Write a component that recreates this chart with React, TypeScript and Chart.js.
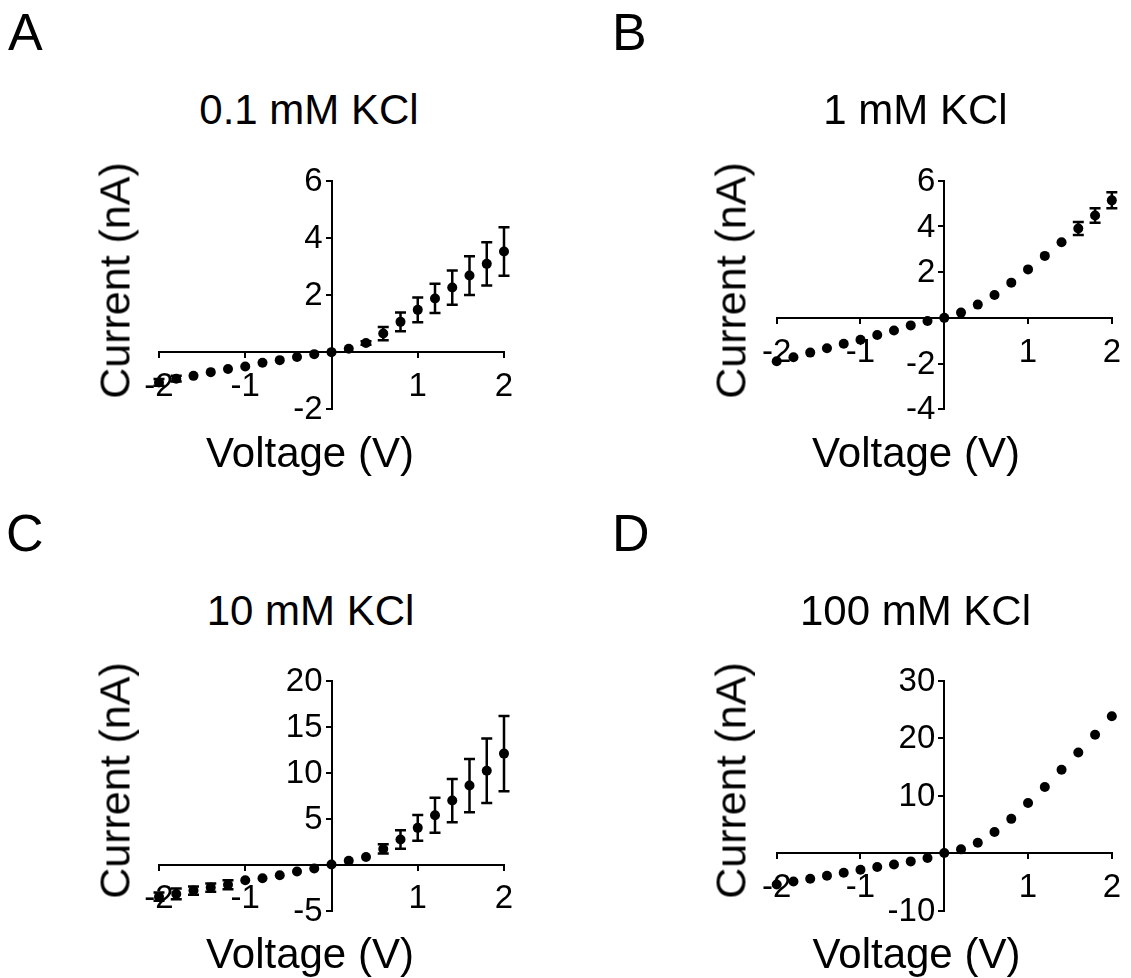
import React, { useEffect, useRef } from 'react';
import { Chart, registerables } from 'chart.js';

Chart.register(...registerables);

// ---------- data ----------
const voltage = [-2, -1.8, -1.6, -1.4, -1.2, -1, -0.8, -0.6, -0.4, -0.2, 0, 0.2, 0.4, 0.6, 0.8, 1, 1.2, 1.4, 1.6, 1.8, 2];

const currentA = [-1.06, -0.93, -0.83, -0.7, -0.59, -0.5, -0.37, -0.28, -0.17, -0.07, 0, 0.12, 0.32, 0.65, 1.06, 1.48, 1.88, 2.26, 2.68, 3.09, 3.52];
const errorA = [0.12, 0.1, 0, 0, 0, 0, 0, 0, 0, 0, 0, 0, 0.06, 0.23, 0.33, 0.43, 0.51, 0.6, 0.68, 0.76, 0.85];

const currentB = [-1.9, -1.72, -1.52, -1.33, -1.13, -0.96, -0.75, -0.55, -0.33, -0.14, 0, 0.23, 0.58, 1.0, 1.54, 2.12, 2.71, 3.31, 3.91, 4.48, 5.14];
const errorB = [0, 0, 0, 0, 0, 0, 0, 0, 0, 0, 0, 0, 0, 0, 0, 0, 0, 0, 0.28, 0.32, 0.35];

const currentC = [-3.5, -3.2, -2.83, -2.5, -2.2, -1.7, -1.49, -1.16, -0.76, -0.43, 0, 0.4, 0.83, 1.7, 2.72, 3.99, 5.36, 6.96, 8.59, 10.2, 12.07];
const errorC = [0.45, 0.58, 0.45, 0.45, 0.5, 0, 0, 0, 0, 0, 0, 0, 0, 0.5, 1.0, 1.4, 1.9, 2.35, 2.9, 3.5, 4.1];

const currentD = [-5.47, -4.94, -4.48, -3.95, -3.43, -2.9, -2.44, -1.98, -1.45, -0.87, 0, 0.64, 1.8, 3.66, 5.95, 8.72, 11.5, 14.5, 17.5, 20.6, 23.8];
const errorD = [0, 0, 0, 0, 0, 0, 0, 0, 0, 0, 0, 0, 0, 0, 0, 0, 0, 0, 0, 0, 0];

const xTicks = [-2, -1, 0, 1, 2];
const yTicksA = [-2, 0, 2, 4, 6];
const yTicksB = [-4, -2, 0, 2, 4, 6];
const yTicksC = [-5, 0, 5, 10, 15, 20];
const yTicksD = [-10, 0, 10, 20, 30];

const panelLetters = ['A', 'B', 'C', 'D'];
const panelTitles = ['0.1 mM KCl', '1 mM KCl', '10 mM KCl', '100 mM KCl'];
const xAxisTitle = 'Voltage (V)';
const yAxisTitle = 'Current (nA)';

const FONT = '"Liberation Sans", Arial, Helvetica, sans-serif';
const TICK_SIZE = 33;

// ---------- plugin: error bars ----------
const errorBarPlugin = {
  id: 'errorBars',
  afterDatasetsDraw(chart: any) {
    const ctx = chart.ctx;
    const xs = chart.scales.x;
    const ys = chart.scales.y;
    chart.data.datasets.forEach((ds: any) => {
      const errs = ds.errors;
      if (!errs) return;
      ctx.save();
      ctx.strokeStyle = '#000';
      ctx.lineWidth = 2.5;
      ds.data.forEach((p: any, i: number) => {
        const e = errs[i];
        if (!e) return;
        const px = xs.getPixelForValue(p.x);
        const y1 = ys.getPixelForValue(p.y - e);
        const y2 = ys.getPixelForValue(p.y + e);
        ctx.beginPath();
        ctx.moveTo(px, y1);
        ctx.lineTo(px, y2);
        ctx.moveTo(px - 5.5, y1);
        ctx.lineTo(px + 5.5, y1);
        ctx.moveTo(px - 5.5, y2);
        ctx.lineTo(px + 5.5, y2);
        ctx.stroke();
      });
      ctx.restore();
    });
  },
};

// ---------- plugin: y tick labels left of the crossing y axis ----------
const yLabelPlugin = {
  id: 'yLabels',
  afterDraw(chart: any) {
    const ctx = chart.ctx;
    const xs = chart.scales.x;
    const ys = chart.scales.y;
    const axisX = xs.getPixelForValue(0);
    ctx.save();
    ctx.fillStyle = '#000';
    ctx.font = `${TICK_SIZE}px ${FONT}`;
    ctx.textAlign = 'right';
    ctx.textBaseline = 'middle';
    ys.ticks.forEach((t: any) => {
      if (t.value === 0) return;
      ctx.fillText(String(t.value), axisX - 9, ys.getPixelForValue(t.value) + 1);
    });
    ctx.restore();
  },
};

type PanelProps = {
  canvasLeft: number;
  canvasTop: number;
  canvasW: number;
  canvasH: number;
  area: { left: number; top: number; right: number; bottom: number };
  values: number[];
  errors: number[];
  yTicks: number[];
};

function Panel(props: PanelProps) {
  const ref = useRef<HTMLCanvasElement>(null);
  useEffect(() => {
    const { canvasLeft, canvasTop, canvasW, canvasH, area, values, errors, yTicks } = props;
    const pts = voltage.map((v, i) => ({ x: v, y: values[i] }));
    const yStep = yTicks[1] - yTicks[0];
    const tickFont = { family: FONT, size: TICK_SIZE };
    const chart = new Chart(ref.current as HTMLCanvasElement, {
      type: 'scatter',
      data: {
        datasets: [
          {
            data: pts,
            errors: errors,
            backgroundColor: '#000',
            borderColor: '#000',
            borderWidth: 0,
            pointRadius: 5,
            pointHoverRadius: 5,
            showLine: false,
            clip: false,
          } as any,
        ],
      },
      options: {
        animation: false,
        responsive: false,
        devicePixelRatio: 1,
        events: [],
        layout: {
          padding: {
            left: area.left - canvasLeft,
            top: area.top - canvasTop,
            right: canvasLeft + canvasW - area.right,
            bottom: canvasTop + canvasH - area.bottom,
          },
        },
        plugins: { legend: { display: false }, tooltip: { enabled: false }, title: { display: false } },
        scales: {
          x: {
            type: 'linear',
            position: { y: 0 } as any,
            min: xTicks[0],
            max: xTicks[xTicks.length - 1],
            afterFit: (s: any) => { s.height = 0; },
            afterBuildTicks: (s: any) => { s.ticks = xTicks.map((v) => ({ value: v })); },
            ticks: {
              stepSize: 1,
              autoSkip: false,
              maxRotation: 0,
              color: '#000',
              font: tickFont,
              padding: 10,
              callback: (v: any) => (Number(v) === 0 ? '' : String(v)),
            },
            grid: { drawOnChartArea: false, drawTicks: true, tickLength: 5, color: '#000', lineWidth: 2 },
            border: { display: true, color: '#000', width: 2 },
          },
          y: {
            type: 'linear',
            position: { x: 0 } as any,
            min: yTicks[0],
            max: yTicks[yTicks.length - 1],
            afterFit: (s: any) => { s.width = 0; },
            afterBuildTicks: (s: any) => { s.ticks = yTicks.map((v) => ({ value: v })); },
            ticks: {
              display: false,
              stepSize: yStep,
              autoSkip: false,
            },
            grid: { drawOnChartArea: false, drawTicks: true, tickLength: 5, color: '#000', lineWidth: 2 },
            border: { display: true, color: '#000', width: 2 },
          },
        },
      },
      plugins: [errorBarPlugin, yLabelPlugin],
    } as any);
    return () => chart.destroy();
  }, []);
  return (
    <canvas
      ref={ref}
      width={props.canvasW}
      height={props.canvasH}
      style={{ position: 'absolute', left: props.canvasLeft, top: props.canvasTop, width: props.canvasW, height: props.canvasH }}
    />
  );
}

// text placed by baseline (line-height 1)
function Txt(props: { text: string; size: number; x: number; baseline: number; align: 'left' | 'center' }) {
  const { text, size, x, baseline, align } = props;
  const top = baseline - 0.8465 * size;
  const w = 600;
  const left = align === 'left' ? x : x - w / 2;
  return (
    <div
      style={{
        position: 'absolute',
        left,
        top,
        width: w,
        textAlign: align,
        fontFamily: FONT,
        fontSize: size,
        lineHeight: 1,
        color: '#000',
        whiteSpace: 'nowrap',
      }}
    >
      {text}
    </div>
  );
}

function YTitle(props: { cx: number; cy: number }) {
  const size = 43;
  const w = 400;
  return (
    <div
      style={{
        position: 'absolute',
        left: props.cx - w / 2,
        top: props.cy - size / 2,
        width: w,
        height: size,
        textAlign: 'center',
        fontFamily: FONT,
        fontSize: size,
        lineHeight: 1,
        color: '#000',
        whiteSpace: 'nowrap',
        transform: 'rotate(-90deg)',
        transformOrigin: '50% 50%',
      }}
    >
      {yAxisTitle}
    </div>
  );
}

export default function App() {
  const panels = [
    {
      letterX: 8, letterBase: 50, titleX: 309, titleBase: 125, xtX: 310, xtBase: 468, ytX: 114.5, ytY: 280,
      canvasLeft: 0, canvasTop: 140, canvasW: 565, canvasH: 340,
      area: { left: 159, top: 180.7, right: 504, bottom: 409.3 },
      values: currentA, errors: errorA, yTicks: yTicksA,
    },
    {
      letterX: 612, letterBase: 50, titleX: 915.5, titleBase: 125, xtX: 916, xtBase: 468, ytX: 731.3, ytY: 280,
      canvasLeft: 565, canvasTop: 140, canvasW: 566, canvasH: 340,
      area: { left: 776.7, top: 180.7, right: 1120, bottom: 409.3 },
      values: currentB, errors: errorB, yTicks: yTicksB,
    },
    {
      letterX: 6, letterBase: 551.5, titleX: 310.5, titleBase: 625.7, xtX: 310, xtBase: 968.3, ytX: 114.5, ytY: 780,
      canvasLeft: 0, canvasTop: 640, canvasW: 565, canvasH: 338,
      area: { left: 159, top: 680.7, right: 504, bottom: 910.5 },
      values: currentC, errors: errorC, yTicks: yTicksC,
    },
    {
      letterX: 612, letterBase: 551.5, titleX: 915.5, titleBase: 625.7, xtX: 916.5, xtBase: 968.3, ytX: 731.3, ytY: 780,
      canvasLeft: 565, canvasTop: 640, canvasW: 566, canvasH: 338,
      area: { left: 776.7, top: 680.7, right: 1120, bottom: 910.5 },
      values: currentD, errors: errorD, yTicks: yTicksD,
    },
  ];
  return (
    <div style={{ position: 'absolute', left: 0, top: 0, width: 1131, height: 978, background: '#fff', overflow: 'hidden' }}>
      {panels.map((p, i) => (
        <React.Fragment key={i}>
          <Panel
            canvasLeft={p.canvasLeft}
            canvasTop={p.canvasTop}
            canvasW={p.canvasW}
            canvasH={p.canvasH}
            area={p.area}
            values={p.values}
            errors={p.errors}
            yTicks={p.yTicks}
          />
          <Txt text={panelLetters[i]} size={52} x={p.letterX} baseline={p.letterBase} align="left" />
          <Txt text={panelTitles[i]} size={42} x={p.titleX} baseline={p.titleBase} align="center" />
          <Txt text={xAxisTitle} size={42} x={p.xtX} baseline={p.xtBase} align="center" />
          <YTitle cx={p.ytX} cy={p.ytY} />
        </React.Fragment>
      ))}
    </div>
  );
}
